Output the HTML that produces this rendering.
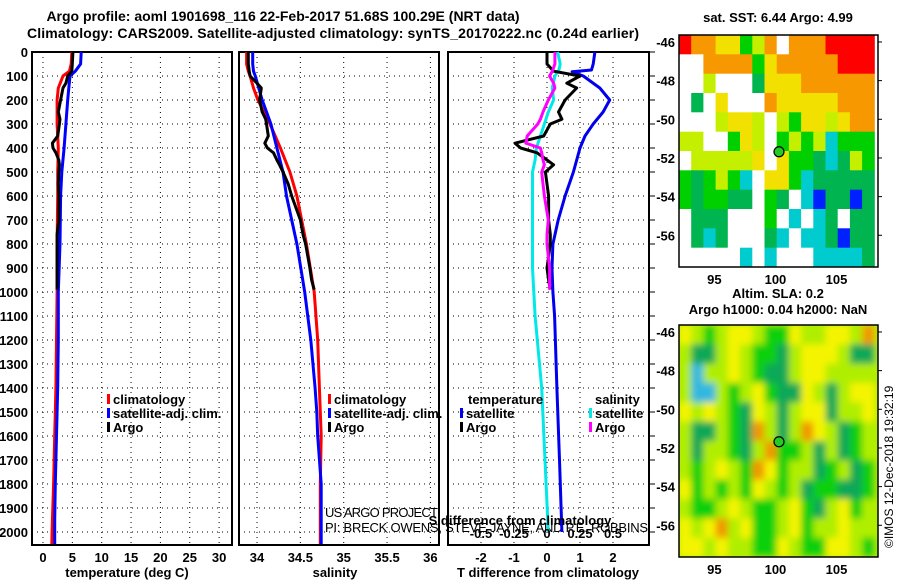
<!DOCTYPE html>
<html><head><meta charset="utf-8"><style>
html,body{margin:0;padding:0;background:#fff;}
svg{display:block;font-family:"Liberation Sans",sans-serif;}
.b{font-weight:bold;font-size:13px;}
.t{font-weight:bold;font-size:14px;}
</style></head><body>
<svg id="fig" width="900" height="580" viewBox="0 0 900 580" xmlns="http://www.w3.org/2000/svg">
<g id="titles">
<text class="t" x="283" y="21" text-anchor="middle">Argo profile: aoml 1901698_116 22-Feb-2017 51.68S 100.29E (NRT data)</text>
<text class="t" x="333" y="38" text-anchor="middle" textLength="612">Climatology: CARS2009. Satellite-adjusted climatology: synTS_20170222.nc (0.24d earlier)</text>
</g>
<g id="p1"></g>
<g id="p2"></g>
<g id="p3"></g>
<g id="m1"></g>
<g id="m2"></g>
<text x="893" y="548" font-size="12" transform="rotate(-90 893 548)">©IMOS 12-Dec-2018 19:32:19</text>
</svg>
<script>
// ---- data ----
const depthTicks = [0,100,200,300,400,500,600,700,800,900,1000,1100,1200,1300,1400,1500,1600,1700,1800,1900,2000];
const tempTicks = [0,5,10,15,20,25,30];
const salTicks = [34,34.5,35,35.5,36];
const salTickLabels = ['34','34.5','35','35.5','36'];
const tdiffTicks = [-2,-1,0,1,2];
const sdiffTicks = [-0.5,-0.25,0,0.25,0.5];
const sdiffTickLabels = ['-0.5','-0.25','0','0.25','0.5'];

const climDepth = [0,50,80,100,150,200,300,400,500,600,800,1000,1200,1400,1500,1600,1800,1950,2050];
const tempClim = [4.9,4.8,4.5,3.4,2.6,2.4,2.4,2.6,2.5,2.5,2.4,2.4,2.3,2.2,2.1,2.0,1.8,1.6,1.5];
const tempSat = [6.5,6.4,5.5,4.6,4.4,4.2,3.9,3.6,3.2,3.0,2.9,2.6,2.6,2.5,2.4,2.3,2.1,2.0,2.0];
const salClim = [33.88,33.88,33.9,33.92,33.96,34.01,34.15,34.27,34.38,34.46,34.57,34.66,34.7,34.72,34.73,34.74,34.73,34.73,34.73];
const salSat = [33.95,33.95,33.96,33.98,34.02,34.06,34.16,34.23,34.30,34.34,34.46,34.55,34.62,34.67,34.69,34.70,34.74,34.74,34.74];

const argoDepth = [0,50,80,100,130,150,200,250,280,300,350,380,400,420,450,470,500,550,600,700,760,800,900,950,990];
const tempArgo = [5.1,5.0,4.9,4.2,3.9,3.4,3.0,2.6,2.9,2.8,2.5,1.6,1.7,2.2,2.7,2.8,2.7,2.6,2.7,2.7,2.4,2.4,2.4,2.4,2.4];
const salArgo = [33.9,33.9,33.91,33.92,34.0,34.05,34.03,34.06,34.1,34.11,34.13,34.09,34.12,34.19,34.23,34.26,34.3,34.36,34.4,34.5,34.53,34.56,34.61,34.63,34.66];
const tdiffArgo = [0,0,0.2,1.0,0.6,0.9,0.55,0.35,0.45,0.1,-0.1,-0.97,-0.8,-0.3,0,0.2,-0.05,0,0.05,0.05,0.1,0.1,0,0.05,0.1];
const sdiffArgo = [0.06,0.06,0.04,0.02,0.05,0.06,0.01,-0.03,-0.05,-0.07,-0.15,-0.16,-0.05,-0.04,-0.03,-0.02,-0.04,-0.03,-0.02,0.01,0.0,0,0.02,0.02,0.02];

const satDepth = [0,50,75,82,100,150,200,250,300,350,400,450,500,600,700,800,900,1000,1100,1400,1700,2000];
const tdiffSat = [1.45,1.4,1.35,0.76,1.1,1.6,1.9,1.7,1.4,1.15,1.0,0.9,0.8,0.55,0.34,0.18,0.15,0.18,0.23,0.3,0.38,0.45];
const sdiffSat = [0.08,0.1,0.09,0.08,0.06,0.04,0.05,0.01,-0.02,-0.05,-0.08,-0.09,-0.11,-0.11,-0.11,-0.11,-0.11,-0.1,-0.09,-0.04,-0.015,0.01];

const lonTicks = [95,100,105];
const latTicks = [-46,-48,-50,-52,-54,-56];
const argoLon = 100.29, argoLat = -51.68;
const sstRows = [
"ROOYYGLOWOOORRRR","WWOOOOGYOOOOORRR","WWLWWWDYYYOOOOOO","WDWYWWWOYYYYYOOO",
"WWWLYYLWLGYYLYOO","LLWWGYLWGLGLCGGG","WLLLLLYWYGGDCDLG","GDGLGCWYYGCDDDDD",
"GDGGDDWGDWCBDDBD","WDDDWWWGWCWCDWDD","WDCDWWWDCWCCDBDD","WWWWWCWCWWWCCCCD"];
const slaRows = [
"YLGLYYLGGYLLYYLO","LDDLYLGGDLYYYLDD","LCLLYLGDDLYYLLLL","LCCLGLYGDDYLDLYY",
"YLYLGDYLDLYYDLLY","LDDLGDOLDLOYLDGL","LDLLGDLOGGLDLDGL","LGLYLGOYGLLDGLDG",
"YGLGLGYLGLDGGDDG","LGGLYLGGLYGDLYGL","YLYOLYGGLYGLLYLL","YYLYLLGGYLGGYYLG"];
</script>
<script>
const NS='http://www.w3.org/2000/svg';
function mk(tag,attrs,parent){const e=document.createElementNS(NS,tag);for(const k in attrs)e.setAttribute(k,attrs[k]);parent.appendChild(e);return e;}
const Y0=52, YS=0.24;
function yD(d){return Y0+d*YS;}
const TOP=52,BOT=545;
function xT(v){return 43+(v-0)*5.87;}
function xS(v){return 257+(v-34)*86.7;}
function xTD(v){return 547+v*33;}
function xSD(v){return 547+v*132;}

function panel(g,x0,x1,xt,ticks,labels,xfun,title,tx){
  depthTicks.forEach(d=>{
    const l=mk('line',{x1:x0,x2:x1,y1:yD(d),y2:yD(d),stroke:'#000','stroke-dasharray':'1 4','stroke-width':1},g);
    
    
  });
  ticks.forEach((t,i)=>{
    const l=mk('line',{x1:xfun(t),x2:xfun(t),y1:TOP,y2:BOT,stroke:'#000','stroke-dasharray':'1 4','stroke-width':1},g);
    
    
    if(labels){
      const tx2=mk('text',{x:xfun(t),y:562,'text-anchor':'middle',class:'b'},g);
      tx2.textContent=labels[i];
      
      
    }
  });
  const r=mk('rect',{x:x0,y:TOP,width:x1-x0,height:BOT-TOP,fill:'none',stroke:'#000','stroke-width':2},g);
  
  
  const at=mk('text',{x:tx,y:577,'text-anchor':'middle',class:'b'},g);
  at.textContent=title;
  
  
}
function line(g,xs,ds,xfun,color,name){
  let p='';
  for(let i=0;i<xs.length;i++){p+=(i?'L':'M')+xfun(xs[i]).toFixed(1)+','+yD(ds[i]).toFixed(1);}
  const e=mk('path',{d:p,fill:'none',stroke:color,'stroke-width':3,'stroke-linejoin':'round'},g);
  
  
}
function legend(g,x,y,color,label){
  const r=mk('rect',{x:x,y:y-10,width:3,height:10,fill:color},g);
  
  
  const t=mk('text',{x:x+6,y:y,class:'b'},g);
  t.textContent=label;
  
  
}
const p1=document.getElementById('p1'),p2=document.getElementById('p2'),p3=document.getElementById('p3');
depthTicks.forEach(d=>{
  const t=mk('text',{x:28,y:yD(d)+5,'text-anchor':'end',class:'b'},p1);
  t.textContent=d;
  
  
});
panel(p1,32,232,0,tempTicks,tempTicks.map(String),xT,'temperature (deg C)',127);
panel(p2,239,439,0,salTicks,salTickLabels,xS,'salinity',335);
panel(p3,448,649,0,tdiffTicks,tdiffTicks.map(String),xTD,'T difference from climatology',548);
depthTicks.forEach(d=>{
  const l=mk('line',{x1:649,x2:655,y1:yD(d),y2:yD(d),stroke:'#000'},p3);
  
  
});
line(p1,tempClim,climDepth,xT,'#ff0000','temp-climatology-line');
line(p1,tempSat,climDepth,xT,'#0000ff','temp-satellite-line');
line(p1,tempArgo,argoDepth,xT,'#000','temp-argo-line');
line(p2,salClim,climDepth,xS,'#ff0000','sal-climatology-line');
line(p2,salSat,climDepth,xS,'#0000ff','sal-satellite-line');
line(p2,salArgo,argoDepth,xS,'#000','sal-argo-line');
line(p3,sdiffSat,satDepth,xSD,'#00e8e8','sdiff-satellite-line');
line(p3,tdiffSat,satDepth,xTD,'#0000ee','tdiff-satellite-line');
line(p3,tdiffArgo,argoDepth,xTD,'#000','tdiff-argo-line');
line(p3,sdiffArgo,argoDepth,xSD,'#ff00ff','sdiff-argo-line');
legend(p1,107,404,'#ff0000','climatology');
legend(p1,107,418,'#0000ff','satellite-adj. clim.');
legend(p1,107,432,'#000','Argo');
legend(p2,328,404,'#ff0000','climatology');
legend(p2,328,418,'#0000ff','satellite-adj. clim.');
legend(p2,328,432,'#000','Argo');
(function(){
  const t=mk('text',{x:468,y:404,class:'b'},p3);t.textContent='temperature';
  
  
  const s=mk('text',{x:595,y:404,class:'b'},p3);s.textContent='salinity';
  
  
})();
legend(p3,460,418,'#0000ee','satellite');
legend(p3,460,432,'#000','Argo');
legend(p3,589,418,'#00e8e8','satellite');
legend(p3,589,432,'#ff00ff','Argo');
(function(){
  const a=mk('text',{x:325,y:517,'font-size':'13',textLength:113},p2);a.textContent='US ARGO PROJECT';
  
  
  const s=mk('text',{x:520,y:525,'text-anchor':'middle',class:'b'},p3);s.textContent='S difference from climatology';
  
  
  sdiffTicks.forEach((v,i)=>{
    const t=mk('text',{x:xSD(v),y:538,'text-anchor':'middle',class:'b'},p3);t.textContent=sdiffTickLabels[i];
    
    
  });
  const b=mk('text',{x:325,y:532,'font-size':'13',textLength:323},p2);b.textContent='PI: BRECK OWENS, STEVE JAYNE, AND P.E. ROBBINS';
  
  
})();

// ---- maps ----
const sstCol={R:'#ff0000',O:'#f79800',Y:'#f2e000',L:'#c4f000',G:'#00d000',D:'#00b450',C:'#00ccd0',B:'#0020ff',W:'#ffffff'};
const slaCol={Y:'#f4f400',L:'#b0ee00',G:'#10d010',D:'#08a858',O:'#f09800',C:'#30b8e0'};
function map(g,top,bot,latTop,latBot,rows,cols,blur,title1,title2){
  const L=679,R=878,lon0=92.1,lon1=108.4;
  const xL=v=>L+(v-lon0)*(R-L)/(lon1-lon0);
  const yL=v=>top+(latTop-v)*(bot-top)/(latTop-latBot);
  const cp=mk('clipPath',{id:'cp'+top},g);mk('rect',{x:L,y:top,width:R-L,height:bot-top},cp);
  const cg=mk('g',{'clip-path':'url(#cp'+top+')'},g);
  if(blur){const f=mk('filter',{id:'bl',x:'-10%',y:'-10%',width:'120%',height:'120%'},g);mk('feGaussianBlur',{stdDeviation:3.5},f);}
  const ig=mk('g',blur?{filter:'url(#bl)'}:{},cg);
  if(blur){mk('rect',{x:L-20,y:top-20,width:R-L+40,height:bot-top+40,fill:'#b0ee00'},ig);}
  rows.forEach((row,ri)=>{
    for(let ci=0;ci<row.length;ci++){
      const c=mk('rect',{x:xL(lon0+ci).toFixed(1),y:yL(latTop-ri).toFixed(1),width:(xL(1)-xL(0)+0.5).toFixed(1),height:(yL(latTop-1)-yL(latTop)+0.5).toFixed(1),fill:cols[row[ci]]},ig);
      
      
    }
  });
  const fr=mk('rect',{x:L,y:top,width:R-L,height:bot-top,fill:'none',stroke:'#000','stroke-width':1.5},g);
  
  
  const dot=mk('circle',{cx:xL(argoLon),cy:yL(argoLat),r:5,fill:'#22cc22',stroke:'#000','stroke-width':1.2},g);
  
  
  latTicks.forEach(v=>{
    const t=mk('text',{x:675,y:yL(v)+5,'text-anchor':'end',class:'b'},g);t.textContent=v;
    
    
    mk('line',{x1:R,x2:R+4,y1:yL(v),y2:yL(v),stroke:'#000'},g);
  });
  lonTicks.forEach(v=>{
    const t=mk('text',{x:xL(v),y:bot+17,'text-anchor':'middle',class:'b'},g);t.textContent=v;
    
    
  });
  title1.forEach((tt,i)=>{
    const t=mk('text',{x:778,y:title2[i],'text-anchor':'middle',class:'b'},g);t.textContent=tt;
    
    
  });
}
map(document.getElementById('m1'),35,267,-45.64,-57.64,sstRows,sstCol,false,['sat. SST: 6.44 Argo: 4.99'],[22]);
map(document.getElementById('m2'),325,557,-45.64,-57.64,slaRows,slaCol,true,['Altim. SLA: 0.2','Argo h1000: 0.04 h2000: NaN'],[298,314]);
</script>
</body></html>
